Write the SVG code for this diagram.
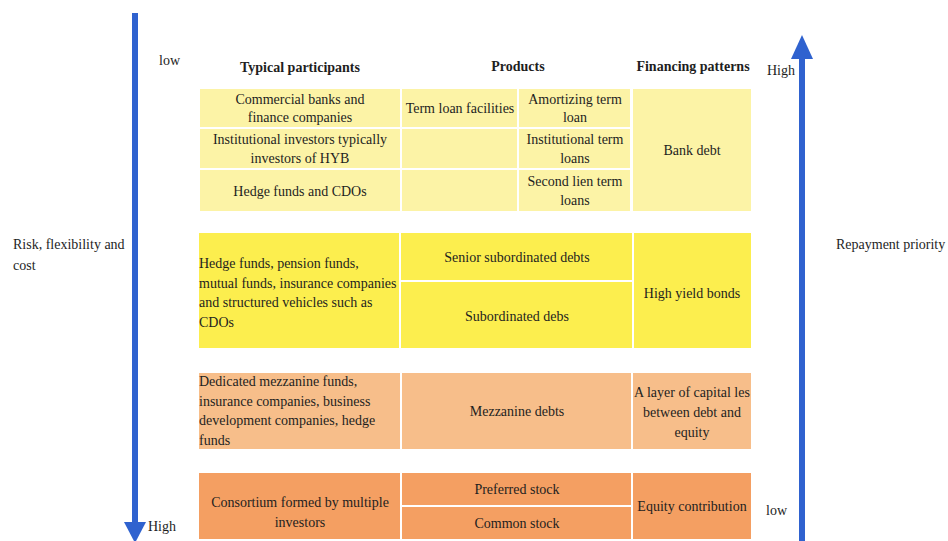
<svg xmlns="http://www.w3.org/2000/svg" width="948" height="541" viewBox="0 0 948 541">
  <style>
    text { font-family: "Liberation Serif", "Times New Roman", serif; font-size: 14px; fill: #1e1e1e; }
    .c { text-anchor: middle; }
    .h { font-weight: bold; }
    .t1 { fill: #fcf3a6; }
    .t2 { fill: #fcee4e; }
    .t3 { fill: #f7be8a; }
    .t4 { fill: #f49f62; }
    .ax { stroke: #2f62cf; stroke-width: 6; fill: none; }
    .hd { fill: #2f62cf; }
  </style>

  <rect width="948" height="541" fill="#ffffff"/>

  <!-- axis arrows -->
  <g id="connectors">
    <line class="ax" x1="135" y1="13" x2="135" y2="524"/>
    <polygon class="hd" points="124,522 146,522 135,543"/>
    <line class="ax" x1="802" y1="57" x2="802" y2="541"/>
    <polygon class="hd" points="791,59 813,59 802,35"/>
  </g>

  <!-- axis labels -->
  <g id="risk-axis">
    <text x="13" y="249">Risk, flexibility and</text>
    <text x="13" y="270">cost</text>
    <text x="159" y="65">low</text>
    <text x="148" y="531">High</text>
  </g>
  <g id="priority-axis">
    <text x="836" y="249">Repayment priority</text>
    <text x="767" y="75">High</text>
    <text x="766" y="515">low</text>
  </g>

  <!-- column headers -->
  <g id="headers">
    <text class="c h" x="300" y="72">Typical participants</text>
    <text class="c h" x="518" y="71">Products</text>
    <text class="c h" x="693" y="71">Financing patterns</text>
  </g>

  <!-- tier 1: bank debt -->
  <g id="bank-debt">
    <g id="bd-participants-1">
      <rect class="t1" x="200" y="89" width="200" height="38"/>
      <text class="c" x="300" y="104">Commercial banks and</text>
      <text class="c" x="300" y="122">finance companies</text>
    </g>
    <g id="bd-participants-2">
      <rect class="t1" x="200" y="129" width="200" height="39"/>
      <text class="c" x="300" y="144">Institutional investors typically</text>
      <text class="c" x="300" y="163">investors of HYB</text>
    </g>
    <g id="bd-participants-3">
      <rect class="t1" x="200" y="170" width="200" height="41"/>
      <text class="c" x="300" y="196">Hedge funds and CDOs</text>
    </g>
    <g id="bd-facilities">
      <rect class="t1" x="402" y="89" width="115" height="38"/>
      <text class="c" x="460" y="113">Term loan facilities</text>
    </g>
    <g id="bd-blank-2">
      <rect class="t1" x="402" y="129" width="115" height="39"/>
    </g>
    <g id="bd-blank-3">
      <rect class="t1" x="402" y="170" width="115" height="41"/>
    </g>
    <g id="bd-amortizing">
      <rect class="t1" x="519" y="89" width="111" height="38"/>
      <text class="c" x="575" y="104">Amortizing term</text>
      <text class="c" x="575" y="122">loan</text>
    </g>
    <g id="bd-institutional">
      <rect class="t1" x="519" y="129" width="111" height="39"/>
      <text class="c" x="575" y="144">Institutional term</text>
      <text class="c" x="575" y="163">loans</text>
    </g>
    <g id="bd-second-lien">
      <rect class="t1" x="519" y="170" width="111" height="41"/>
      <text class="c" x="575" y="186">Second lien term</text>
      <text class="c" x="575" y="205">loans</text>
    </g>
    <g id="bd-pattern">
      <rect class="t1" x="633" y="89" width="118" height="122"/>
      <text class="c" x="692" y="155">Bank debt</text>
    </g>
  </g>

  <!-- tier 2: high yield bonds -->
  <g id="high-yield">
    <g id="hy-participants">
      <rect class="t2" x="199" y="233" width="200" height="115"/>
      <text x="199" y="268">Hedge funds, pension funds,</text>
      <text x="199" y="288">mutual funds, insurance companies</text>
      <text x="199" y="307">and structured vehicles such as</text>
      <text x="199" y="327">CDOs</text>
    </g>
    <g id="hy-senior">
      <rect class="t2" x="401" y="233" width="231" height="47"/>
      <text class="c" x="517" y="262">Senior subordinated debts</text>
    </g>
    <g id="hy-subordinated">
      <rect class="t2" x="401" y="282" width="231" height="66"/>
      <text class="c" x="517" y="321">Subordinated debs</text>
    </g>
    <g id="hy-pattern">
      <rect class="t2" x="634" y="233" width="117" height="115"/>
      <text class="c" x="692" y="298">High yield bonds</text>
    </g>
  </g>

  <!-- tier 3: mezzanine -->
  <g id="mezzanine">
    <g id="mz-participants">
      <rect class="t3" x="199" y="373" width="201" height="76"/>
      <text x="199" y="386">Dedicated mezzanine funds,</text>
      <text x="199" y="406">insurance companies, business</text>
      <text x="199" y="425">development companies, hedge</text>
      <text x="199" y="445">funds</text>
    </g>
    <g id="mz-product">
      <rect class="t3" x="402" y="373" width="229" height="76"/>
      <text class="c" x="517" y="416">Mezzanine debts</text>
    </g>
    <g id="mz-pattern">
      <rect class="t3" x="633" y="373" width="118" height="76"/>
      <text class="c" x="692" y="397">A layer of capital les</text>
      <text class="c" x="692" y="417">between debt and</text>
      <text class="c" x="692" y="437">equity</text>
    </g>
  </g>

  <!-- tier 4: equity -->
  <g id="equity">
    <g id="eq-participants">
      <rect class="t4" x="199" y="473" width="201" height="66"/>
      <text class="c" x="300" y="507">Consortium formed by multiple</text>
      <text class="c" x="300" y="527">investors</text>
    </g>
    <g id="eq-preferred">
      <rect class="t4" x="402" y="473" width="229" height="32"/>
      <text class="c" x="517" y="494">Preferred stock</text>
    </g>
    <g id="eq-common">
      <rect class="t4" x="402" y="507" width="229" height="32"/>
      <text class="c" x="517" y="528">Common stock</text>
    </g>
    <g id="eq-pattern">
      <rect class="t4" x="633" y="473" width="118" height="66"/>
      <text class="c" x="692" y="511">Equity contribution</text>
    </g>
  </g>
</svg>
